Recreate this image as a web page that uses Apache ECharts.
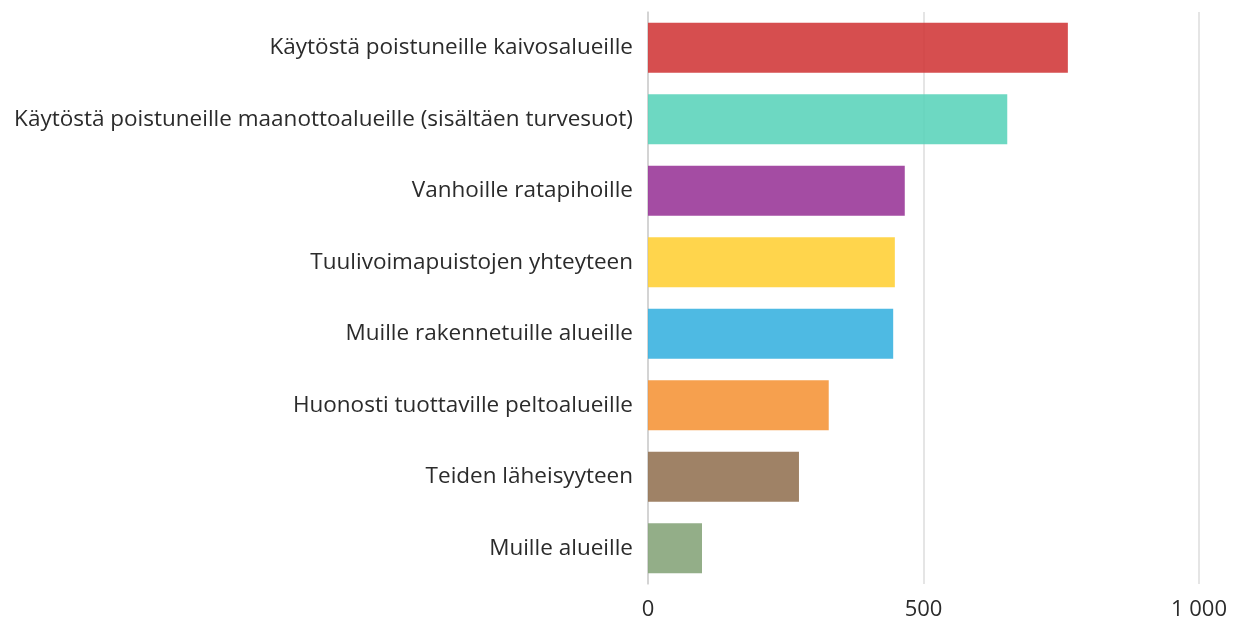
<!DOCTYPE html>
<html>
<head>
<meta charset="utf-8">
<script src="https://cdn.jsdelivr.net/npm/echarts@6/dist/echarts.min.js"></script>
<style>
  html, body { margin: 0; padding: 0; background: #fff; }
  #chart { width: 1234px; height: 622px; }
</style>
</head>
<body>
<div id="chart"></div>
<script>
// kategoriat ylhäältä alas
let categories = [
    'Käytöstä poistuneille kaivosalueille',
    'Käytöstä poistuneille maanottoalueille (sisältäen turvesuot)',
    'Vanhoille ratapihoille',
    'Tuulivoimapuistojen yhteyteen',
    'Muille rakennetuille alueille',
    'Huonosti tuottaville peltoalueille',
    'Teiden läheisyyteen',
    'Muille alueille'
]
let values = [762, 652, 466, 448, 445, 328, 274, 98]
let barColors = ['#d13b3c', '#5dd4bb', '#9a3999', '#ffd038', '#3bb3e0', '#f5963b', '#957455', '#87a57b']
let xTicks = [0, 500, 1000]

let fontFamily = '"Open Sans", "Noto Sans", sans-serif'

let myChart = echarts.init(document.getElementById('chart'))
myChart.setOption({
    animation: false,
    grid: { left: 648, right: 35, top: 12, bottom: 38 },
    xAxis: {
        type: 'value',
        min: xTicks[0],
        max: xTicks[xTicks.length - 1],
        interval: xTicks[1] - xTicks[0],
        axisLine: { show: false },
        axisTick: { show: false },
        splitLine: { lineStyle: { color: '#dcdcdc', width: 1.5 } },
        axisLabel: {
            color: '#2b2b2b',
            fontSize: 22,
            fontFamily: fontFamily,
            margin: 15,
            formatter: v => String(v).replace(/\B(?=(\d{3})+(?!\d))/g, ' ')
        }
    },
    yAxis: {
        type: 'category',
        inverse: true,
        data: categories,
        axisLine: { lineStyle: { color: '#cfcfcf', width: 1.5 } },
        axisTick: { show: false },
        axisLabel: {
            color: '#2b2b2b',
            fontSize: 22.5,
            fontFamily: fontFamily,
            margin: 15
        }
    },
    series: [{
        type: 'bar',
        barCategoryGap: '30%',
        data: values.map((v, i) => ({
            value: v,
            itemStyle: { color: barColors[i], opacity: 0.9 }
        }))
    }]
})
</script>
</body>
</html>
